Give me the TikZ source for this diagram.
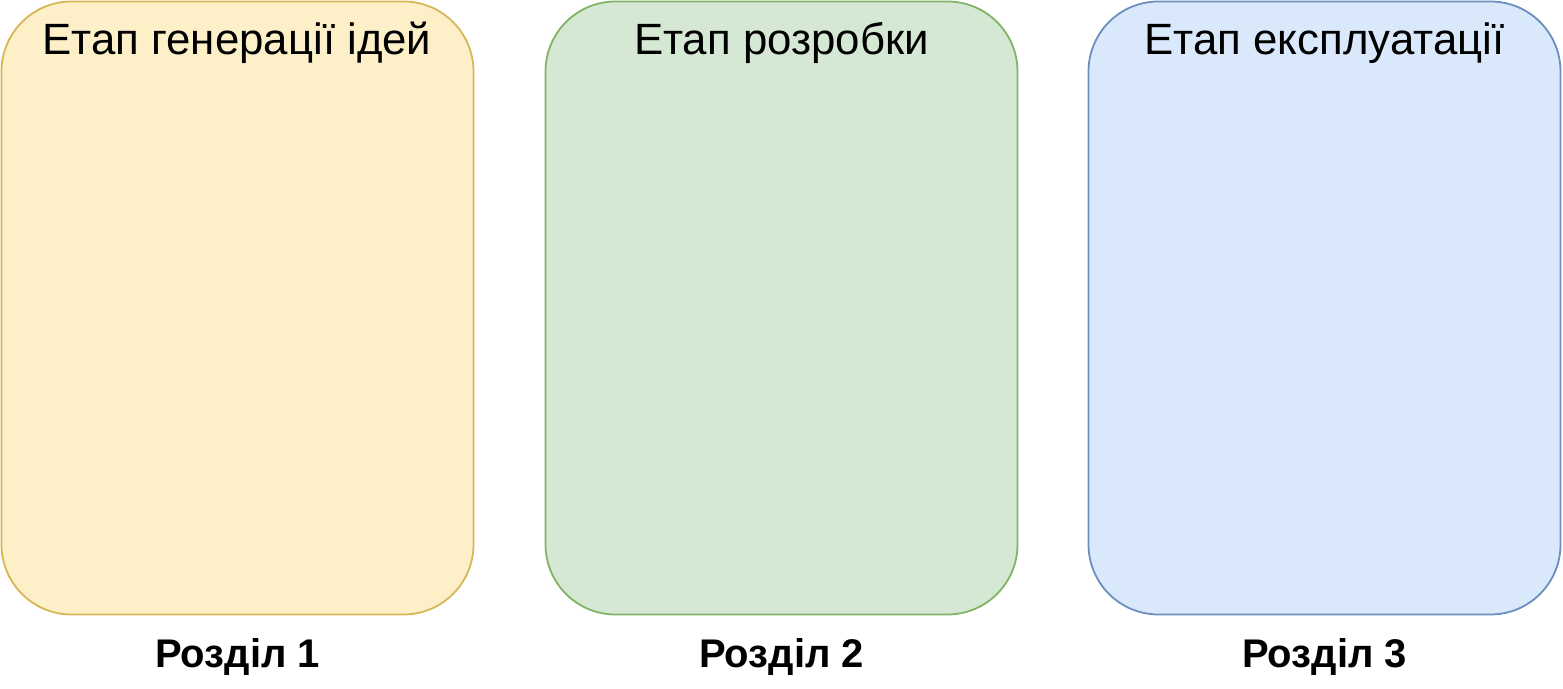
\documentclass[tikz,border=0pt]{standalone}
\usepackage{fontspec}
\setmainfont{Liberation Sans}
\definecolor{yfill}{HTML}{FDF0C8}
\definecolor{ydraw}{HTML}{D6B656}
\definecolor{gfill}{HTML}{D5E8D4}
\definecolor{gdraw}{HTML}{82B366}
\definecolor{bfill}{HTML}{DAE8FC}
\definecolor{bdraw}{HTML}{6C8EBF}
\begin{document}
\begin{tikzpicture}[x=1pt,y=1pt,
  stage/.style={draw, line width=1.8pt, rounded corners=70pt, minimum width=472pt, minimum height=613pt, inner sep=0pt},
  title/.style={anchor=base, font=\fontsize{43.8}{50}\selectfont},
  sect/.style={anchor=base, font=\fontsize{40}{48}\selectfont\bfseries}]
\useasboundingbox (0,0) rectangle (1563,688);
\node[stage, fill=yfill, draw=ydraw] (b1) at (237.5,380) {};
\node[stage, fill=gfill, draw=gdraw] (b2) at (781.5,380) {};
\node[stage, fill=bfill, draw=bdraw] (b3) at (1324.5,380) {};
\node[title] (t1) at (237,633) {Етап генерації ідей};
\node[title] (t2) at (781.5,633) {Етап розробки};
\node[title] (t3) at (1324.5,633) {Етап експлуатації};
\node[sect] (s1) at (237.5,20) {Розділ 1};
\node[sect] (s2) at (781.5,20) {Розділ 2};
\node[sect] (s3) at (1324.5,20) {Розділ 3};
\end{tikzpicture}
\end{document}
